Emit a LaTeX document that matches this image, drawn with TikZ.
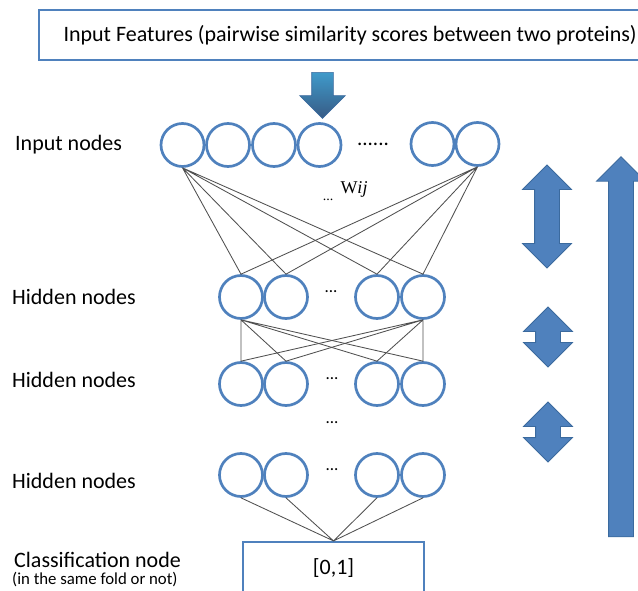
\documentclass[tikz,border=0pt]{standalone}
\usepackage{fontspec}
\setmainfont{Carlito}
\newfontfamily\wfont{Liberation Serif}
\usetikzlibrary{positioning,shapes.arrows}

\definecolor{nodeblue}{HTML}{4F81BD}
\definecolor{arrowedge}{HTML}{3B6A9E}
\definecolor{wiregray}{HTML}{505050}

\tikzset{
    unit/.style={circle, draw=nodeblue, line width=2.7pt, minimum size=43pt, inner sep=0pt},
    wire/.style={draw=wiregray, line width=0.85pt},
    layerlabel/.style={anchor=west, inner sep=0pt, font=\fontsize{22}{26}\selectfont},
    dots/.style={inner sep=0pt, font=\fontsize{17}{20}\selectfont},
    outbox/.style={draw=nodeblue, line width=2.2pt, inner sep=0pt, align=center,
        font=\fontsize{22}{26}\selectfont},
    blockarrow/.style={fill=nodeblue, draw=arrowedge, line width=0.8pt, inner sep=12pt,
        minimum width=48pt}
}

\begin{document}
\begin{tikzpicture}[x=1pt, y=-1pt]
\clip (0,0) rectangle (638,591);

% ==== feature box and input arrow ====
\node[outbox, anchor=west, minimum width=622pt, minimum height=50pt] (features) at (38,35)
    {Input Features (pairwise similarity scores between two proteins)};
\node[single arrow, shape border rotate=270, minimum height=46pt, minimum width=45pt,
      single arrow head extend=12pt, inner sep=10.5pt, draw=arrowedge, line width=0.6pt,
      top color=nodeblue!80!cyan, bottom color=nodeblue!70!black] (feed) at (322.5,90) {};

% ==== input layer ====
\node[layerlabel] (inlabel) at (15,145) {Input nodes};
\node[unit] (in1) at (182.5,145) {};
\node[unit] (in2) at (228,145) {};
\node[unit] (in3) at (274,145) {};
\node[unit] (in4) at (319.5,145) {};
\node[dots, font=\fontsize{21}{24}\selectfont] (indots) at (373,144) {......};
\node[unit] (in5) at (432.5,144) {};
\node[unit] (in6) at (477.5,144) {};

% weight label
\node[inner sep=0pt, font=\wfont\fontsize{18}{20}\selectfont] (wij) at (354,189) {W\textit{ij}};
\node[dots, font=\wfont\fontsize{14}{16}\selectfont] (wdots) at (328,200) {...};

% ==== hidden layers ====
\node[layerlabel] (hlabela) at (12,297) {Hidden nodes};
\node[unit] (ha1) at (241,297) {};
\node[unit] (ha2) at (286,297) {};
\node[dots] (hadots) at (331,292) {...};
\node[unit] (ha3) at (377,297) {};
\node[unit] (ha4) at (423,297) {};

\node[layerlabel] (hlabelb) at (12,380) {Hidden nodes};
\node[unit] (hb1) at (241,384) {};
\node[unit] (hb2) at (286,384) {};
\node[dots] (hbdots) at (332,379) {...};
\node[unit] (hb3) at (377,384) {};
\node[unit] (hb4) at (423,384) {};

\node[dots] (skipdots) at (332,423) {...};

\node[layerlabel] (hlabelc) at (12,481) {Hidden nodes};
\node[unit] (hc1) at (241,475) {};
\node[unit] (hc2) at (286,475) {};
\node[dots] (hcdots) at (332,470) {...};
\node[unit] (hc3) at (377,475) {};
\node[unit] (hc4) at (423,475) {};

% ==== output ====
\node[outbox, minimum width=181pt, minimum height=52pt] (cls) at (333.5,568) {[0,1]};
\node[layerlabel] (clslabel) at (14,560) {Classification node};
\node[inner sep=0pt, font=\fontsize{16.8}{19}\selectfont,
      below=4pt of clslabel.south west, xshift=-2pt, anchor=north west] (clsnote) {(in the same fold or not)};

% ==== weights ====
\draw[wire] (in1.south) -- (ha1.north) (in1.south) -- (ha2.north)
            (in1.south) -- (ha3.north) (in1.south) -- (ha4.north);
\draw[wire] (in6.south) -- (ha1.north) (in6.south) -- (ha2.north)
            (in6.south) -- (ha3.north) (in6.south) -- (ha4.north);
\draw[wire] (ha1.south) -- (hb1.north) (ha1.south) -- (hb2.north)
            (ha1.south) -- (hb3.north) (ha1.south) -- (hb4.north);
\draw[wire] (ha4.south) -- (hb1.north) (ha4.south) -- (hb2.north)
            (ha4.south) -- (hb3.north) (ha4.south) -- (hb4.north);
\draw[wire] (hc1.south) -- (cls.north) (hc2.south) -- (cls.north)
            (hc3.south) -- (cls.north) (hc4.south) -- (cls.north);

% ==== training direction arrows ====
\node[blockarrow, double arrow, shape border rotate=90, minimum height=103pt,
      double arrow head extend=12pt] (backa) at (547,216.5) {};
\node[blockarrow, double arrow, shape border rotate=90, minimum height=60pt,
      double arrow head extend=12pt] (backb) at (548,337) {};
\node[blockarrow, double arrow, shape border rotate=90, minimum height=60pt,
      double arrow head extend=12pt] (backc) at (548,432) {};
\node[blockarrow, single arrow, shape border rotate=90, minimum height=380pt,
      single arrow head extend=12pt] (forward) at (621,353) {};

\end{tikzpicture}
\end{document}
